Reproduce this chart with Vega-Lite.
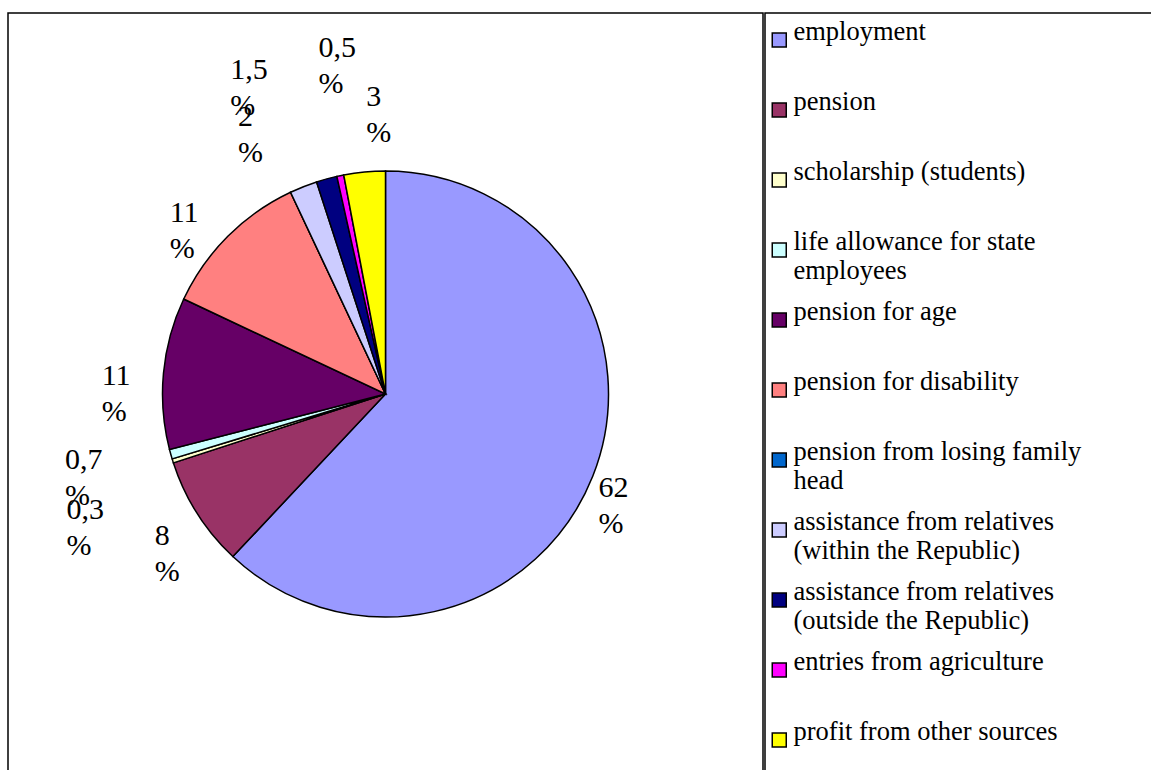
{
  "$schema": "https://vega.github.io/schema/vega-lite/v6.json",
  "background": "white",
  "padding": {"left": 7, "top": 4, "right": 0, "bottom": 0},
  "spacing": 0,
  "config": {
    "view": {"stroke": "black", "strokeWidth": 1.5},
    "style": {"view": {"stroke": "black", "strokeWidth": 1.5}, "guide-label": {"lineHeight": 29}},
    "concat": {"spacing": 0},
    "font": "Liberation Serif"
  },
  "data": {
    "values": [
      {"category": "employment", "value": 62, "label": "62\n%"},
      {"category": "pension", "value": 8, "label": "8\n%"},
      {"category": "scholarship (students)", "value": 0.3, "label": "0,3\n%"},
      {"category": "life allowance for state employees", "value": 0.7, "label": "0,7\n%"},
      {"category": "pension for age", "value": 11, "label": "11\n%"},
      {"category": "pension for disability", "value": 11, "label": "11\n%"},
      {"category": "pension from losing family head", "value": 0, "label": ""},
      {"category": "assistance from relatives (within the Republic)", "value": 2, "label": "2\n%"},
      {"category": "assistance from relatives (outside the Republic)", "value": 1.5, "label": "1,5\n%"},
      {"category": "entries from agriculture", "value": 0.5, "label": "0,5\n%"},
      {"category": "profit from other sources", "value": 3, "label": "3\n%"}
    ]
  },
  "resolve": {"scale": {"color": "independent"}, "legend": {"color": "independent"}},
  "hconcat": [
    {
      "width": 755,
      "height": 762,
      "transform": [{"window": [{"op": "row_number", "as": "idx"}]}],
      "encoding": {
        "theta": {"field": "value", "type": "quantitative", "stack": true},
        "order": {"field": "idx", "type": "quantitative"}
      },
      "layer": [
        {
          "mark": {"type": "arc", "outerRadius": 223, "stroke": "black", "strokeWidth": 1.5},
          "encoding": {
            "color": {
              "field": "category", "type": "nominal",
              "scale": {
                "domain": ["employment", "pension", "scholarship (students)", "life allowance for state employees", "pension for age", "pension for disability", "pension from losing family head", "assistance from relatives (within the Republic)", "assistance from relatives (outside the Republic)", "entries from agriculture", "profit from other sources"],
                "range": ["#9999FF", "#993366", "#FFFFCC", "#CCFFFF", "#660066", "#FF8080", "#0066CC", "#CCCCFF", "#000080", "#FF00FF", "#FFFF00"]
              },
              "legend": null
            }
          }
        },
        {
          "mark": {"type": "text", "clip": true, "radius": 255, "dx": -24, "dy": 0, "fontSize": 30, "lineBreak": "\n", "lineHeight": 36, "align": "left", "baseline": "middle", "color": "black"},
          "encoding": {"detail": {"field": "category", "type": "nominal"}, "text": {"condition": {"test": "datum.category === 'employment'", "field": "label", "type": "nominal"}, "value": ""}}
        },
        {
          "mark": {"type": "text", "clip": true, "radius": 272, "dx": -1, "dy": -4, "fontSize": 30, "lineBreak": "\n", "lineHeight": 36, "align": "left", "baseline": "middle", "color": "black"},
          "encoding": {"detail": {"field": "category", "type": "nominal"}, "text": {"condition": {"test": "datum.category === 'pension'", "field": "label", "type": "nominal"}, "value": ""}}
        },
        {
          "mark": {"type": "text", "clip": true, "radius": 327, "dx": -7, "dy": 18, "fontSize": 30, "lineBreak": "\n", "lineHeight": 36, "align": "left", "baseline": "middle", "color": "black"},
          "encoding": {"detail": {"field": "category", "type": "nominal"}, "text": {"condition": {"test": "datum.category === 'scholarship (students)'", "field": "label", "type": "nominal"}, "value": ""}}
        },
        {
          "mark": {"type": "text", "clip": true, "radius": 312, "dx": -20, "dy": -18, "fontSize": 30, "lineBreak": "\n", "lineHeight": 36, "align": "left", "baseline": "middle", "color": "black"},
          "encoding": {"detail": {"field": "category", "type": "nominal"}, "text": {"condition": {"test": "datum.category === 'life allowance for state employees'", "field": "label", "type": "nominal"}, "value": ""}}
        },
        {
          "mark": {"type": "text", "clip": true, "radius": 267, "dx": -18, "dy": 7, "fontSize": 30, "lineBreak": "\n", "lineHeight": 36, "align": "left", "baseline": "middle", "color": "black"},
          "encoding": {"detail": {"field": "category", "type": "nominal"}, "text": {"condition": {"test": "datum.category === 'pension for age'", "field": "label", "type": "nominal"}, "value": ""}}
        },
        {
          "mark": {"type": "text", "clip": true, "radius": 260, "dx": -32, "dy": 3, "fontSize": 30, "lineBreak": "\n", "lineHeight": 36, "align": "left", "baseline": "middle", "color": "black"},
          "encoding": {"detail": {"field": "category", "type": "nominal"}, "text": {"condition": {"test": "datum.category === 'pension for disability'", "field": "label", "type": "nominal"}, "value": ""}}
        },
        {
          "mark": {"type": "text", "clip": true, "radius": 292, "dx": -40, "dy": -6, "fontSize": 30, "lineBreak": "\n", "lineHeight": 36, "align": "left", "baseline": "middle", "color": "black"},
          "encoding": {"detail": {"field": "category", "type": "nominal"}, "text": {"condition": {"test": "datum.category === 'assistance from relatives (within the Republic)'", "field": "label", "type": "nominal"}, "value": ""}}
        },
        {
          "mark": {"type": "text", "clip": true, "radius": 334, "dx": -67, "dy": -2, "fontSize": 30, "lineBreak": "\n", "lineHeight": 36, "align": "left", "baseline": "middle", "color": "black"},
          "encoding": {"detail": {"field": "category", "type": "nominal"}, "text": {"condition": {"test": "datum.category === 'assistance from relatives (outside the Republic)'", "field": "label", "type": "nominal"}, "value": ""}}
        },
        {
          "mark": {"type": "text", "clip": true, "radius": 331, "dx": 0, "dy": -22, "fontSize": 30, "lineBreak": "\n", "lineHeight": 36, "align": "left", "baseline": "middle", "color": "black"},
          "encoding": {"detail": {"field": "category", "type": "nominal"}, "text": {"condition": {"test": "datum.category === 'entries from agriculture'", "field": "label", "type": "nominal"}, "value": ""}}
        },
        {
          "mark": {"type": "text", "clip": true, "radius": 279, "dx": 7, "dy": -19, "fontSize": 30, "lineBreak": "\n", "lineHeight": 36, "align": "left", "baseline": "middle", "color": "black"},
          "encoding": {"detail": {"field": "category", "type": "nominal"}, "text": {"condition": {"test": "datum.category === 'profit from other sources'", "field": "label", "type": "nominal"}, "value": ""}}
        }
      ]
    },
    {
      "width": 389,
      "height": 762,
      "mark": {"type": "point", "shape": "square", "filled": true, "opacity": 0},
      "encoding": {
        "color": {
          "field": "category", "type": "nominal",
          "scale": {
            "domain": ["employment", "pension", "scholarship (students)", "life allowance for state employees", "pension for age", "pension for disability", "pension from losing family head", "assistance from relatives (within the Republic)", "assistance from relatives (outside the Republic)", "entries from agriculture", "profit from other sources"],
            "range": ["#9999FF", "#993366", "#FFFFCC", "#CCFFFF", "#660066", "#FF8080", "#0066CC", "#CCCCFF", "#000080", "#FF00FF", "#FFFF00"]
          },
          "legend": {
            "title": null,
            "orient": "none",
            "legendX": 1,
            "legendY": -8,
            "padding": 0,
            "symbolType": "square",
            "symbolSize": 196,
            "symbolStrokeColor": "black",
            "symbolStrokeWidth": 1.5,
            "symbolOpacity": 1,
            "labelFont": "Liberation Serif",
            "labelFontSize": 26.5,
            "labelColor": "black",
            "labelOffset": 1,
            "labelLimit": 500,
            "labelBaseline": "alphabetic",
            "clipHeight": 70,
            "rowPadding": 0,
            "labelExpr": "datum.label === 'life allowance for state employees' ? ['life allowance for state', 'employees'] : datum.label === 'pension from losing family head' ? ['pension from losing family', 'head'] : datum.label === 'assistance from relatives (within the Republic)' ? ['assistance from relatives', '(within the Republic)'] : datum.label === 'assistance from relatives (outside the Republic)' ? ['assistance from relatives', '(outside the Republic)'] : datum.label"
          }
        }
      }
    }
  ]
}
